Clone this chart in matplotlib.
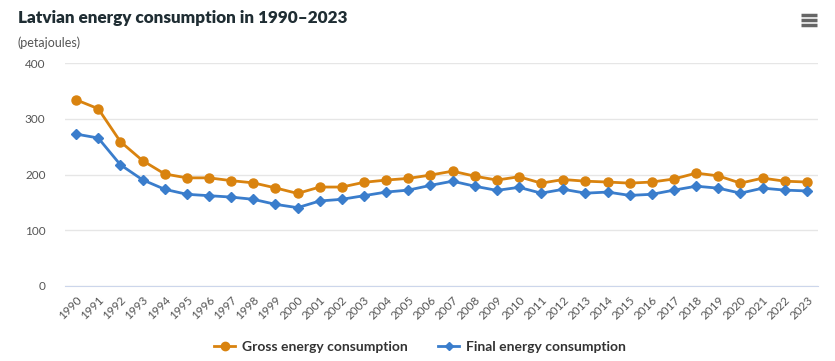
import matplotlib
matplotlib.use("Agg")
import matplotlib.pyplot as plt
from matplotlib.lines import Line2D

years = list(range(1990, 2024))
gross = [334, 318, 259, 225, 201, 194, 194, 189, 185, 176, 166, 177.5, 177.5, 186, 190, 193,
         199, 206, 197, 190, 196, 184.5, 191, 188, 186.5, 184.5, 186.5, 192, 202.5, 197.5,
         184.5, 193.5, 188, 186.5]
final = [272.5, 265.5, 217.5, 190.5, 173.5, 164.5, 162, 159.5, 155.5, 146.5, 140.5, 152.5, 155.5,
         162, 168.5, 172, 180.5, 188, 179, 171.5, 177, 166.5, 173.5, 166.5, 168.5, 162.5, 164.5,
         172, 179, 175.5, 166.5, 175.5, 172, 170.5]
yticks = [0, 100, 200, 300, 400]

plt.rcParams['font.family'] = ['Lato', 'DejaVu Sans']
W, H = 835, 361
fig = plt.figure(figsize=(W/100, H/100), dpi=100)
ax = fig.add_axes([65/W, 1-286/H, (818-65)/W, (286-63)/H])

c_gross = '#d9830f'
c_final = '#3a7dcc'
ax.plot(years, gross, color=c_gross, lw=2, marker='o', ms=6.5, zorder=3)
ax.plot(years, final, color=c_final, lw=2, marker='D', ms=4.8, zorder=3)

ax.set_xlim(1989.5, 2023.5)
ax.set_ylim(0, 400)
ax.set_yticks(yticks)
ax.set_yticklabels([str(v) for v in yticks], color='#555555', fontsize=8.5)
ax.set_xticks(years)
ax.set_xticklabels([str(y) for y in years], rotation=45, ha='right', rotation_mode='anchor',
                   color='#555555', fontsize=8.5)
ax.tick_params(axis='both', length=0)
ax.tick_params(axis='y', pad=14)
ax.tick_params(axis='x', pad=6)
ax.grid(axis='y', color='#e6e6e6', lw=1)
ax.set_axisbelow(True)
for s in ['top', 'right', 'left']:
    ax.spines[s].set_visible(False)
ax.spines['bottom'].set_color('#ccd6eb')

fig.text(18/W, 1-18/H, 'Latvian energy consumption in 1990–2023', fontsize=12.3, fontweight='heavy',
         color='#1f2d33', va='center', ha='left')
fig.text(18/W, 1-43/H, '(petajoules)', fontsize=9, color='#555555', va='center', ha='left')

# menu icon
for yy in [15, 20, 25]:
    fig.add_artist(Line2D([801/W, 817/W], [1-yy/H, 1-yy/H], color='#666666', lw=2.5,
                          solid_capstyle='butt'))

handles = [Line2D([], [], color=c_gross, lw=2, marker='o', ms=6),
           Line2D([], [], color=c_final, lw=2, marker='D', ms=4.5)]
fig.legend(handles, ['Gross energy consumption', 'Final energy consumption'],
           loc='center', bbox_to_anchor=(420/W, 1-347/H), ncol=2, frameon=False,
           prop={'weight': 'bold', 'size': 10}, labelcolor='#333333', handlelength=1.5,
           columnspacing=2.2, handletextpad=0.5)

fig.savefig('out.png', dpi=100)
